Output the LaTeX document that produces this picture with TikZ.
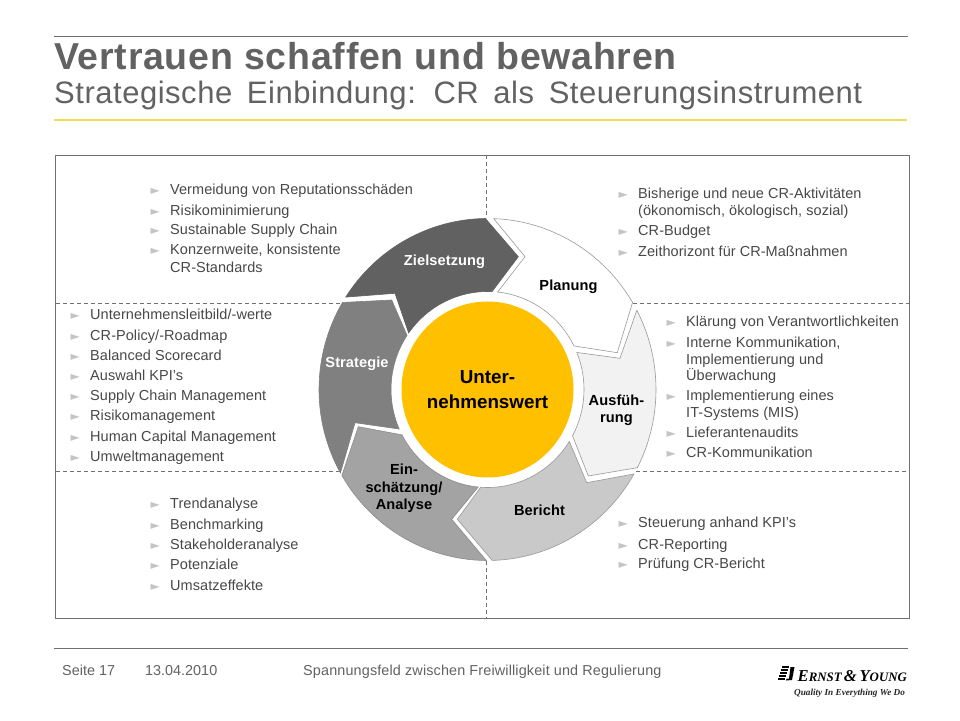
\documentclass[tikz,border=0pt]{standalone}
\usepackage{fontspec}
\setmainfont{Liberation Sans}
\newfontfamily\djv{DejaVu Sans}
\newfontfamily\lgf{Liberation Serif}
\newfontfamily\subf[WordSpace=1.6,LetterSpace=1.7]{Liberation Sans}
\usetikzlibrary{calc,shapes.geometric}
\definecolor{txt}{HTML}{484848}
\definecolor{ttl}{HTML}{626262}
\definecolor{rulec}{HTML}{707070}
\definecolor{ygold}{HTML}{FFC000}
\definecolor{yline}{HTML}{F2DB55}
\definecolor{bul}{HTML}{C4C4C4}
\tikzset{
  lab/.style={anchor=center,align=center,font=\fontsize{14.6}{17.5}\selectfont\bfseries\addfontfeature{LetterSpace=0.5},text=black,inner sep=0pt},
  itemtext/.style={anchor=base west,inner sep=0pt,text=txt,font=\fontsize{14.5}{16}\selectfont\addfontfeature{LetterSpace=0.4}},
  bulletmark/.style={anchor=base,inner sep=0pt,text=bul,font=\djv\fontsize{12}{12}\selectfont},
  foot/.style={anchor=base west,inner sep=0pt,text=ttl,font=\fontsize{14.4}{16}\selectfont},
  dashline/.style={draw=rulec,line width=0.7pt,dash pattern=on 4pt off 3pt},
  seg/.style={line width=0.6pt,line join=miter},
}
\newcommand{\itemb}[4]{% name, x text, y centre, text
  \node[bulletmark] (b#1) at ({#2-14.7},{720-#3-5}) {►};
  \node[itemtext] (#1) at (#2,{720-#3-5}) {#4};
}
\newcommand{\itemc}[4]{% continuation line
  \node[itemtext] (#1) at (#2,{720-#3-5}) {#4};
}
\def\Ro{168.5pt and 171pt}
\def\Ri{96.5pt and 98pt}
\tikzset{outerarc/.style={x radius=168.5pt,y radius=171pt},innerarc/.style={x radius=96.5pt,y radius=98pt}}
\begin{document}
\begin{tikzpicture}[x=1pt,y=1pt]
\useasboundingbox (0,0) rectangle (960,720);
\fill[white] (0,0) rectangle (960,720);
% rules
\coordinate (r1a) at (54,684); \coordinate (r1b) at (908,684);
\draw[rulec,line width=0.8pt] (r1a) -- (r1b);
\coordinate (r2a) at (54,600); \coordinate (r2b) at (907,600);
\draw[yline,line width=1.8pt] (r2a) -- (r2b);
\coordinate (r3a) at (54,72); \coordinate (r3b) at (908,72);
\draw[rulec,line width=0.8pt] (r3a) -- (r3b);
% title
\node[anchor=base west,inner sep=0pt,text=ttl,font=\fontsize{37.5}{40}\selectfont\bfseries\addfontfeature{LetterSpace=2}] (title) at (54,{720-69.5}) {Vertrauen schaffen und bewahren};
\node[anchor=base west,inner sep=0pt,text=ttl,font=\subf\fontsize{31}{32}\selectfont] (subtitle) at (54,{720-104}) {Strategische Einbindung: CR als Steuerungsinstrument};
% frame
\coordinate (fa) at (55.5,565); \coordinate (fb) at (909.5,102);
\draw[rulec,line width=0.8pt] (fa) rectangle (fb);
% dashes
\coordinate (C) at (487.5,330.5);
\coordinate (d1) at (486,565); \coordinate (d2) at (486,502);
\coordinate (d3) at (486,159); \coordinate (d4) at (486,102);
\draw[dashline] (d1) -- (d2); \draw[dashline] (d3) -- (d4);
\coordinate (d5) at (56,417); \coordinate (d6) at (346,417);
\coordinate (d7) at (633,417); \coordinate (d8) at (909,417);
\draw[dashline] (d5) -- (d6); \draw[dashline] (d7) -- (d8);
\coordinate (d9) at (56,249); \coordinate (d10) at (340,249);
\coordinate (d11) at (636,249); \coordinate (d12) at (909,249);
\draw[dashline] (d9) -- (d10); \draw[dashline] (d11) -- (d12);
% ring segments
\filldraw[seg,fill=white,draw=gray!80] ($(C)+(87.9:\Ro)$) arc[start angle=87.9,end angle=30.6,outerarc]
  -- (617.3,367.3) -- ($(C)+(26.4:\Ri)$) arc[start angle=26.4,end angle=84,innerarc] -- (525,463.3) -- cycle;
\filldraw[seg,fill=black!5,draw=gray!80] ($(C)+(27.6:\Ro)$) arc[start angle=27.6,end angle=-27.2,outerarc]
  -- (588.3,244) -- ($(C)+(-28.2:\Ri)$) arc[start angle=-28.2,end angle=22.2,innerarc] -- (620,361.7) -- cycle;
\filldraw[seg,fill=black!21,draw=gray!80] ($(C)+(-29.6:\Ro)$) arc[start angle=-29.6,end angle=-88.4,outerarc]
  -- (457.3,200.7) -- ($(C)+(266:\Ri)$) arc[start angle=266,end angle=328,innerarc] -- (586.7,237.3) -- cycle;
\filldraw[seg,fill=black!36,draw=gray!90] ($(C)+(-90.4:\Ro)$) arc[start angle=-90.4,end angle=-149.8,outerarc]
  -- (358.3,293.3) -- ($(C)+(207.6:\Ri)$) arc[start angle=207.6,end angle=264.5,innerarc] -- (451.7,200.7) -- cycle;
\filldraw[seg,fill=black!50,draw=black!50] ($(C)+(209.2:\Ro)$) arc[start angle=209.2,end angle=149.4,outerarc]
  -- (391.7,420) -- ($(C)+(146.5:\Ri)$) arc[start angle=146.5,end angle=203.8,innerarc] -- (355,297.3) -- cycle;
\filldraw[seg,fill=black!62,draw=black!62] ($(C)+(147.3:\Ro)$) arc[start angle=147.3,end angle=90.7,outerarc]
  -- (518.3,463.3) -- ($(C)+(87.3:\Ri)$) arc[start angle=87.3,end angle=144.8,innerarc] -- (395,426.7) -- cycle;
% centre
\node[ellipse,fill=ygold,minimum width=172pt,minimum height=176pt,inner sep=0pt,align=center,font=\fontsize{18.8}{25}\selectfont\bfseries,text=black] (centre) at (C) {Unter-\\[0pt]nehmenswert};
% labels
\node[lab,text=white] (l1) at (444.5,{720-262}) {Zielsetzung};
\node[lab] (l2) at (568.5,{720-287}) {Planung};
\node[lab] (l3) at (616.5,{720-410.5}) {Ausfüh-\\rung};
\node[lab] (l4) at (539.5,{720-510}) {Bericht};
\node[lab] (l5) at (404,{720-488.5}) {Ein-\\schätzung/\\Analyse};
\node[lab,text=white] (l6) at (357,{720-364}) {Strategie};
% lists
\itemb{a1}{170}{190}{Vermeidung von Reputationsschäden}
\itemb{a2}{170}{211}{Risikominimierung}
\itemb{a3}{170}{230}{Sustainable Supply Chain}
\itemb{a4}{170}{250}{Konzernweite, konsistente}
\itemc{a5}{170}{268}{CR-Standards}
\itemb{b1}{638}{194}{Bisherige und neue CR-Aktivitäten}
\itemc{b2}{638}{211}{(ökonomisch, ökologisch, sozial)}
\itemb{b3}{638}{231}{CR-Budget}
\itemb{b4}{638}{252}{Zeithorizont für CR-Maßnahmen}
\itemb{c1}{90}{315}{Unternehmensleitbild/-werte}
\itemb{c2}{90}{336}{CR-Policy/-Roadmap}
\itemb{c3}{90}{356}{Balanced Scorecard}
\itemb{c4}{90}{376}{Auswahl KPI's}
\itemb{c5}{90}{396}{Supply Chain Management}
\itemb{c6}{90}{416}{Risikomanagement}
\itemb{c7}{90}{437}{Human Capital Management}
\itemb{c8}{90}{457}{Umweltmanagement}
\itemb{d1}{686}{322}{Klärung von Verantwortlichkeiten}
\itemb{d2}{686}{343}{Interne Kommunikation,}
\itemc{d3}{686}{360}{Implementierung und}
\itemc{d4}{686}{376}{Überwachung}
\itemb{d5}{686}{396}{Implementierung eines}
\itemc{d6}{686}{413}{IT-Systems (MIS)}
\itemb{d7}{686}{433}{Lieferantenaudits}
\itemb{d8}{686}{453}{CR-Kommunikation}
\itemb{e1}{170}{504}{Trendanalyse}
\itemb{e2}{170}{525}{Benchmarking}
\itemb{e3}{170}{545}{Stakeholderanalyse}
\itemb{e4}{170}{565}{Potenziale}
\itemb{e5}{170}{585}{Umsatzeffekte}
\itemb{f1}{638}{523}{Steuerung anhand KPI's}
\itemb{f2}{638}{544}{CR-Reporting}
\itemb{f3}{638}{564}{Prüfung CR-Bericht}
% footer
\node[foot] (s1) at (62,{720-675}) {Seite 17};
\node[foot] (s2) at (145,{720-675}) {13.04.2010};
\node[foot,font=\fontsize{14.4}{16}\selectfont\addfontfeature{LetterSpace=1}] (s3) at (303,{720-675}) {Spannungsfeld zwischen Freiwilligkeit und Regulierung};
% logo
\foreach \yy/\xa/\xb in {667/782/789,670/781/788,673/780/787,676/779/786,679/778/785}{
  \fill[black] (\xa,{720-\yy-1}) rectangle (\xb,{720-\yy+0.6});
}
\fill[black] (790.5,{720-667}) -- (794.5,{720-667}) -- (792,{720-680}) -- (786,{720-680.5}) -- (786.5,{720-678.8}) -- (789,{720-678.5}) -- cycle;
\node[anchor=base west,inner sep=0pt,text=black,font=\lgf\itshape\bfseries\fontsize{16.6}{18}\selectfont] (logo) at (797.5,{720-681}) {E\fontsize{12.9}{18}\selectfont RNST\,\fontsize{16.6}{18}\selectfont\&\,Y\fontsize{12.9}{18}\selectfont OUNG};
\node[anchor=base west,inner sep=0pt,text=black!85,font=\lgf\itshape\bfseries\fontsize{9.2}{10}\selectfont] (tag) at (794,{720-695}) {Quality In Everything We Do};
\end{tikzpicture}
\end{document}
